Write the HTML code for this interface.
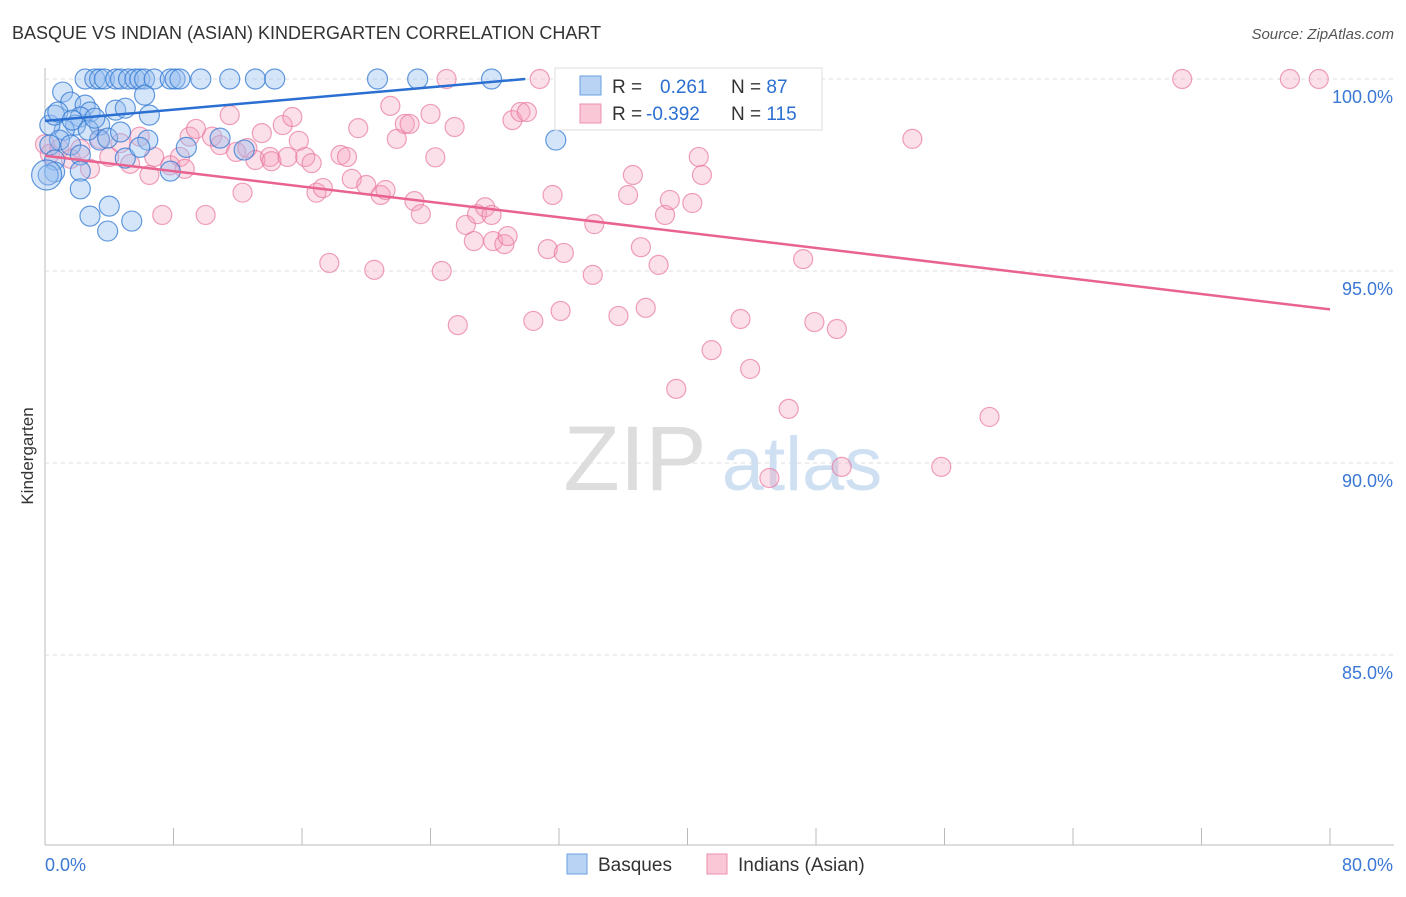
<!DOCTYPE html>
<html><head><meta charset="utf-8"><style>
body{margin:0;background:#fff;font-family:"Liberation Sans",sans-serif}
svg text{font-family:"Liberation Sans",sans-serif}
</style></head><body>
<svg id="c" width="1406" height="892">
<text x="12" y="39" font-size="18" fill="#333">BASQUE VS INDIAN (ASIAN) KINDERGARTEN CORRELATION CHART</text>
<text x="1394" y="39" font-size="15" fill="#555" text-anchor="end" font-style="italic">Source: ZipAtlas.com</text>
<text x="33" y="456" font-size="17" fill="#333" transform="rotate(-90 33 456)" text-anchor="middle">Kindergarten</text>
<g id="grid"></g>
<g><text x="635" y="490" font-size="92" fill="#ddd" font-family="Liberation Serif" text-anchor="middle">ZIP</text><text x="802" y="490" font-size="76" fill="#cfe0f3" text-anchor="middle">atlas</text></g>
<g id="pts"></g>
<g id="lines"></g>
<g>
<rect x="555" y="68" width="267" height="62" fill="#fff" stroke="#ddd"/>
<rect x="580" y="76" width="21" height="19" fill="#b8d3f3" stroke="#6a9fe0"/>
<rect x="580" y="104" width="21" height="19" fill="#f9c7d6" stroke="#ec8fae"/>
<text x="612" y="93" font-size="19" fill="#333">R = <tspan fill="#2a6fd1" x="660">0.261</tspan><tspan fill="#333" x="731">N = </tspan><tspan fill="#2a6fd1">87</tspan></text>
<text x="612" y="120" font-size="19" fill="#333">R = <tspan fill="#2a6fd1" x="646">-0.392</tspan><tspan fill="#333" x="731">N = </tspan><tspan fill="#2a6fd1">115</tspan></text>
</g>
<g>
<rect x="567" y="854" width="20" height="20" fill="#b8d3f3" stroke="#6a9fe0"/>
<text x="598" y="871" font-size="19" fill="#333">Basques</text>
<rect x="707" y="854" width="20" height="20" fill="#f9c7d6" stroke="#ec8fae"/>
<text x="738" y="871" font-size="19" fill="#333">Indians (Asian)</text>
</g>
</svg>
<script>
const yTicks=[100,95,90,85];
const xTickLabels=["0.0%","80.0%"];
const blueX=[2.5,3.1,3.4,3.7,4.4,4.7,5.2,5.6,5.9,6.2,6.8,7.8,8.1,8.4,9.7,11.5,13.1,14.3,20.7,23.2,27.8,33.2,1.1,1.6,2.5,2.8,2.2,1.9,3.4,1.2,0.3,0.6,0.9,1.6,2.2,3.4,4.4,5.0,6.2,6.5,6.4,5.0,3.9,4.7,0.3,0.6,0.6,0.2,2.2,2.2,2.8,4.0,3.9,5.4,5.9,7.8,8.8,10.9,12.4,31.8,0.8,1.7,2.7,3.1,0.1];
const blueY=[100,100,100,100,100,100,100,100,100,100,100,100,100,100,100,100,100,100,100,100,100,100,99.66,99.4,99.32,99.14,99.01,98.8,98.8,98.67,98.8,99.06,98.41,98.28,98.02,98.41,99.19,99.24,99.58,99.06,98.41,97.94,98.46,98.62,98.28,97.89,97.58,97.5,97.6,97.14,96.43,96.69,96.04,96.3,98.22,97.6,98.22,98.46,98.15,98.41,99.14,98.93,98.67,98.98,97.5];
const blueR=[10,10,10,10,10,10,10,10,10,10,10,10,10,10,10,10,10,10,10,10,10,10,10,10,10,10,10,10,10,10,10,10,10,10,10,10,10,10,10,10,10,10,10,10,10,10,10,10,10,10,10,10,10,10,10,10,10,10,10,10,10,10,10,10,15];
const pinkX=[0,0.3,0.9,1.6,2.2,2.8,3.4,4.0,4.7,5.3,5.9,6.5,6.8,7.3,7.8,8.4,8.7,9.0,9.4,10.0,10.4,10.9,11.5,11.9,12.3,12.6,13.1,13.5,14.0,14.1,14.8,15.1,15.4,15.8,16.2,16.6,16.9,17.3,17.7,18.4,18.8,19.1,19.5,20.0,20.5,20.9,21.2,21.5,21.9,22.4,22.7,23.0,23.4,24.0,24.3,24.7,25.5,25.7,26.2,26.7,26.9,27.4,27.8,27.9,28.6,28.8,29.1,29.6,30.0,30.4,30.8,31.3,31.6,32.1,32.3,34.1,34.2,35.7,36.3,36.6,37.1,37.4,38.2,38.6,38.9,39.3,40.3,40.7,40.9,41.5,43.3,43.9,46.3,46.8,47.2,47.9,49.3,49.6,54.0,55.8,58.8,45.1,70.8,77.5,79.3,25.0];
const pinkY=[98.3,98.05,98.18,97.92,98.18,97.66,98.44,97.97,98.33,97.79,98.5,97.5,97.97,96.46,97.75,97.97,97.66,98.5,98.7,96.46,98.5,98.28,99.06,98.1,97.04,98.2,97.89,98.59,97.97,97.86,98.8,97.97,99.01,98.39,97.97,97.81,97.04,97.16,95.21,98.02,97.97,97.4,98.72,97.24,95.03,96.98,97.11,99.3,98.44,98.83,98.83,96.82,96.48,99.09,97.96,95.0,98.75,93.59,96.2,95.78,96.48,96.66,96.46,95.78,95.7,95.91,98.93,99.14,99.14,93.7,100,95.57,96.98,93.96,95.47,94.9,96.22,93.83,96.98,97.5,95.62,94.04,95.16,96.46,96.85,91.93,96.77,97.97,97.5,92.94,93.75,92.45,91.41,100,95.31,93.67,93.49,89.9,98.44,89.9,91.2,89.61,100,100,100,100];
const blueTrend=[0,98.91,29.9,100];
const pinkTrend=[0,98.0,80,94.0];
const NS="http://www.w3.org/2000/svg";
const X=v=>45+v/80*1285, Y=v=>79+(100-v)*38.4;
const g=document.getElementById('grid');
function mk(t,a,p){const e=document.createElementNS(NS,t);for(const k in a)e.setAttribute(k,a[k]);p.appendChild(e);return e;}
const ax=mk('line',{x1:45,y1:68,x2:45,y2:845,stroke:'#bbb'},g);


const bx=mk('line',{x1:45,y1:845,x2:1394,y2:845,stroke:'#bbb'},g);


for(let i=0;i<=10;i++){const t=mk('line',{x1:45+i*128.5,x2:45+i*128.5,y1:828,y2:845,stroke:'#bbb'},g);

}
yTicks.forEach(v=>{const l=mk('line',{x1:45,x2:1394,y1:Y(v),y2:Y(v),stroke:'#ddd','stroke-dasharray':'4,4'},g);


const t=mk('text',{x:1393,y:Y(v)+24,'font-size':18,fill:'#3a78d4','text-anchor':'end'},g);t.textContent=v.toFixed(1)+'%';

});
xTickLabels.forEach((s,i)=>{const t=mk('text',{x:i?1393:45,y:871,'font-size':18,fill:'#3a78d4','text-anchor':i?'end':'start'},g);t.textContent=s;

});
const P=document.getElementById('pts');
pinkX.forEach((x,i)=>{const c=mk('circle',{cx:X(x),cy:Y(pinkY[i]),r:9.5,fill:'rgba(245,160,188,0.32)',stroke:'rgba(232,120,160,0.7)','stroke-width':1.2},P);

});
blueX.forEach((x,i)=>{const c=mk('circle',{cx:X(x),cy:Y(blueY[i]),r:blueR[i],fill:'rgba(150,190,240,0.4)',stroke:'rgba(50,120,210,0.75)','stroke-width':1.2},P);

});
const L=document.getElementById('lines');
const b=mk('line',{x1:X(blueTrend[0]),y1:Y(blueTrend[1]),x2:X(blueTrend[2]),y2:Y(blueTrend[3]),stroke:'#2a6fd1','stroke-width':2.5},L);


const p=mk('line',{x1:X(pinkTrend[0]),y1:Y(pinkTrend[1]),x2:X(pinkTrend[2]),y2:Y(pinkTrend[3]),stroke:'#e8638f','stroke-width':2.5},L);


</script>
</body></html>
